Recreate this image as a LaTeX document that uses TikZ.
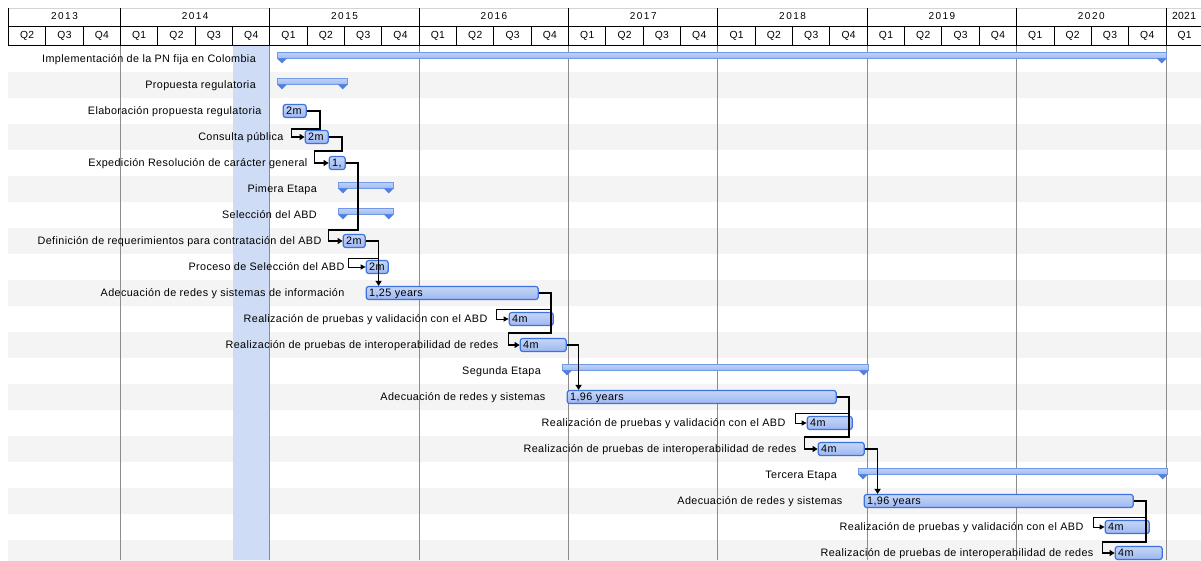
\documentclass[tikz,border=0pt]{standalone}
\usepackage{fontspec}
\setmainfont{Liberation Sans}
\newfontfamily\bodyfont{Liberation Sans}[LetterSpace=3.5]
\newfontfamily\yearfont{Liberation Sans}[LetterSpace=15]
\usetikzlibrary{arrows.meta,calc}
\definecolor{stripe}{HTML}{F4F4F4}
\definecolor{band}{HTML}{CEDCF6}
\definecolor{barfill}{HTML}{9DB7F1}
\definecolor{bartop}{HTML}{C6D6F8}
\definecolor{barline}{HTML}{3D72DE}
\definecolor{sumfill}{HTML}{A0BAF1}
\definecolor{sumtop}{HTML}{C4D4F7}
\definecolor{sumline}{HTML}{7099E6}
\definecolor{sumtipc}{HTML}{4F80E2}
\definecolor{yearline}{HTML}{8C8C8C}
\definecolor{topline}{HTML}{D4D4D4}
\begin{document}
\begin{tikzpicture}[x=1pt,y=-1pt,
  every node/.style={font=\bodyfont\fontsize{10.8}{12}\selectfont, inner sep=0pt},
  lbl/.style={anchor=east, text height=7.5pt, text depth=2pt, yshift=-1.2pt},
  hdr/.style={text height=7.5pt, text depth=2pt},
  yr/.style={hdr, font=\yearfont\fontsize{10}{12}\selectfont},
  qt/.style={hdr, font=\bodyfont\fontsize{10.3}{12}\selectfont},
  taskbar/.style={anchor=west, draw=barline, line width=1.2pt, rounded corners=2.5pt,
    top color=bartop, bottom color=barfill, minimum height=13pt, inner xsep=3pt,
    text height=8.5pt, text depth=1.5pt, align=left},
  sumbar/.style={anchor=west, draw=sumline, line width=0.8pt, top color=sumtop,
    bottom color=sumfill, minimum height=6pt, inner sep=0pt},
  sumtip/.style={fill=sumtipc},
  link/.style={draw=black, line width=1.7pt, -{Triangle[length=5pt,width=6pt]}},
  thinlink/.style={draw=black, line width=0.9pt, -{Triangle[length=5pt,width=5pt]}},
  hline/.style={draw=black, line width=0.9pt},
  bodyline/.style={draw=yearline, line width=0.9pt}]
\useasboundingbox (0,0) rectangle (1201,560);
\clip (0,0) rectangle (1201,560);
% row stripes
\foreach \i in {2,4,...,20}
  \fill[stripe] (8,{59+26*(\i-1)-13}) rectangle (1201,{59+26*(\i-1)+13});
% current quarter band
\fill[band] (232.5,45) rectangle (269.8,560);
% year lines in body
\foreach \i in {0,...,7}
  \draw[bodyline] ({120.5+\i*149.35},45) -- ({120.5+\i*149.35},560);
% header
\draw[topline, line width=0.9pt] (8,8) -- (1201,8);
\draw[hline] (8,26) -- (1201,26);
\draw[hline] (8,45) -- (1201,45);
\draw[hline] (8,8) -- (8,45);
\foreach \k in {-2,...,28}{
  \pgfmathsetmacro\qx{120.5+\k*37.3375}
  \pgfmathtruncatemacro\qm{Mod(\k,4)}
  \ifnum\qm=0
    \draw[hline] (\qx,8) -- (\qx,45);
  \else
    \draw[hline] (\qx,26) -- (\qx,45);
  \fi
}
\foreach \k in {-3,...,28}{
  \pgfmathsetmacro\qc{120.5+\k*37.3375+18.67}
  \pgfmathtruncatemacro\qn{Mod(\k,4)+1}
  \node[qt] (q\k) at (\qc,35.5) {Q\qn};
}
\node[yr] (y2013) at (64.5,17) {2013};
\foreach \y in {2014,...,2020}{
  \node[yr] (y\y) at ({120.5+(\y-2014)*149.35+74.67},17) {\y};
}
\node[qt] (y2021) at (1184,17) {2021};
% summary bars
\node[sumbar, minimum width=889pt] (s1) at (277,55) {};
\node[sumbar, minimum width=70pt] (s2) at (277,81) {};
\node[sumbar, minimum width=55pt] (s6) at (338,185) {};
\node[sumbar, minimum width=55pt] (s7) at (338,211) {};
\node[sumbar, minimum width=306pt] (s13) at (562,367) {};
\node[sumbar, minimum width=309pt] (s17) at (858,471) {};
\foreach \s in {s1,s2,s6,s7,s13,s17}{
  \fill[sumtip] (\s.south west) -- ++(10,0) -- ++(-5,5) -- cycle;
  \fill[sumtip] (\s.south east) -- ++(-10,0) -- ++(5,5) -- cycle;
}
% task bars
\node[taskbar, text width=17pt] (b3) at (282.6,111) {2m};
\node[taskbar, text width=17pt] (b4) at (304.6,137) {2m};
\node[taskbar, text width=10pt] (b5) at (328.6,163) {1,};
\node[taskbar, text width=16pt] (b8) at (342.6,241) {2m};
\node[taskbar, text width=16pt] (b9) at (365.6,267) {2m};
\node[taskbar, text width=166pt] (b10) at (365.6,293) {1,25 years};
\node[taskbar, text width=38pt] (b11) at (508.6,319) {4m};
\node[taskbar, text width=40pt] (b12) at (519.6,345) {4m};
\node[taskbar, text width=263pt] (b14) at (566.6,397) {1,96 years};
\node[taskbar, text width=39pt] (b15) at (806.6,423) {4m};
\node[taskbar, text width=40pt] (b16) at (817.6,449) {4m};
\node[taskbar, text width=263pt] (b18) at (863.6,501) {1,96 years};
\node[taskbar, text width=38pt] (b19) at (1104.6,527) {4m};
\node[taskbar, text width=41pt] (b20) at (1114.6,553) {4m};
% labels
\node[lbl] (l1) at ([xshift=-21pt,yshift=-4pt]s1.west) {Implementación de la PN fija en Colombia};
\node[lbl] (l2) at ([xshift=-21pt,yshift=-4pt]s2.west) {Propuesta regulatoria};
\node[lbl] (l3) at ([xshift=-21pt]b3.west) {Elaboración propuesta regulatoria};
\node[lbl] (l4) at ([xshift=-21pt]b4.west) {Consulta pública};
\node[lbl] (l5) at ([xshift=-21pt]b5.west) {Expedición Resolución de carácter general};
\node[lbl] (l6) at ([xshift=-21pt,yshift=-4pt]s6.west) {Pimera Etapa};
\node[lbl] (l7) at ([xshift=-21pt,yshift=-4pt]s7.west) {Selección del ABD};
\node[lbl] (l8) at ([xshift=-21pt]b8.west) {Definición de requerimientos para contratación del ABD};
\node[lbl] (l9) at ([xshift=-21pt]b9.west) {Proceso de Selección del ABD};
\node[lbl] (l10) at ([xshift=-21pt]b10.west) {Adecuación de redes y sistemas de información};
\node[lbl] (l11) at ([xshift=-21pt]b11.west) {Realización de pruebas y validación con el ABD};
\node[lbl] (l12) at ([xshift=-21pt]b12.west) {Realización de pruebas de interoperabilidad de redes};
\node[lbl] (l13) at ([xshift=-21pt,yshift=-4pt]s13.west) {Segunda Etapa};
\node[lbl] (l14) at ([xshift=-21pt]b14.west) {Adecuación de redes y sistemas};
\node[lbl] (l15) at ([xshift=-21pt]b15.west) {Realización de pruebas y validación con el ABD};
\node[lbl] (l16) at ([xshift=-21pt]b16.west) {Realización de pruebas de interoperabilidad de redes};
\node[lbl] (l17) at ([xshift=-21pt,yshift=-4pt]s17.west) {Tercera Etapa};
\node[lbl] (l18) at ([xshift=-21pt]b18.west) {Adecuación de redes y sistemas};
\node[lbl] (l19) at ([xshift=-21pt]b19.west) {Realización de pruebas y validación con el ABD};
\node[lbl] (l20) at ([xshift=-21pt]b20.west) {Realización de pruebas de interoperabilidad de redes};
% links
\draw[link] (b3.east) -- ++(13,0) |- ([xshift=-13pt,yshift=8pt]b4.west) |- (b4.west);
\draw[link] (b4.east) -- ++(13,0) |- ([xshift=-14pt,yshift=12pt]b5.west) |- (b5.west);
\draw[link] (b5.east) -- ++(12,0) |- ([xshift=-14pt,yshift=11pt]b8.west) |- (b8.west);
\draw[link] (b8.east) -| ([xshift=13pt]b10.north west);
\draw[thinlink] ($(b8.east)+(13,17)$) -| ([xshift=-17pt]b9.west) -- (b9.west);
\draw[link] (b10.east) -- ++(12,0) |- ([xshift=-11pt,yshift=12pt]b12.west) |- (b12.west);
\draw[thinlink] ($(b10.east)+(12,16)$) -| ([xshift=-12pt]b11.west) -- (b11.west);
\draw[link] (b12.east) -| ([xshift=12pt]b14.north west);
\draw[link] (b14.east) -- ++(12,0) |- ([xshift=-13pt,yshift=12pt]b16.west) |- (b16.west);
\draw[thinlink] ($(b14.east)+(12,16)$) -| ([xshift=-11pt]b15.west) -- (b15.west);
\draw[link] (b16.east) -| ([xshift=14pt]b18.north west);
\draw[link] (b18.east) -- ++(12,0) |- ([xshift=-12pt,yshift=11pt]b20.west) |- (b20.west);
\draw[thinlink] ($(b18.east)+(12,16)$) -| ([xshift=-11pt]b19.west) -- (b19.west);
\end{tikzpicture}
\end{document}
